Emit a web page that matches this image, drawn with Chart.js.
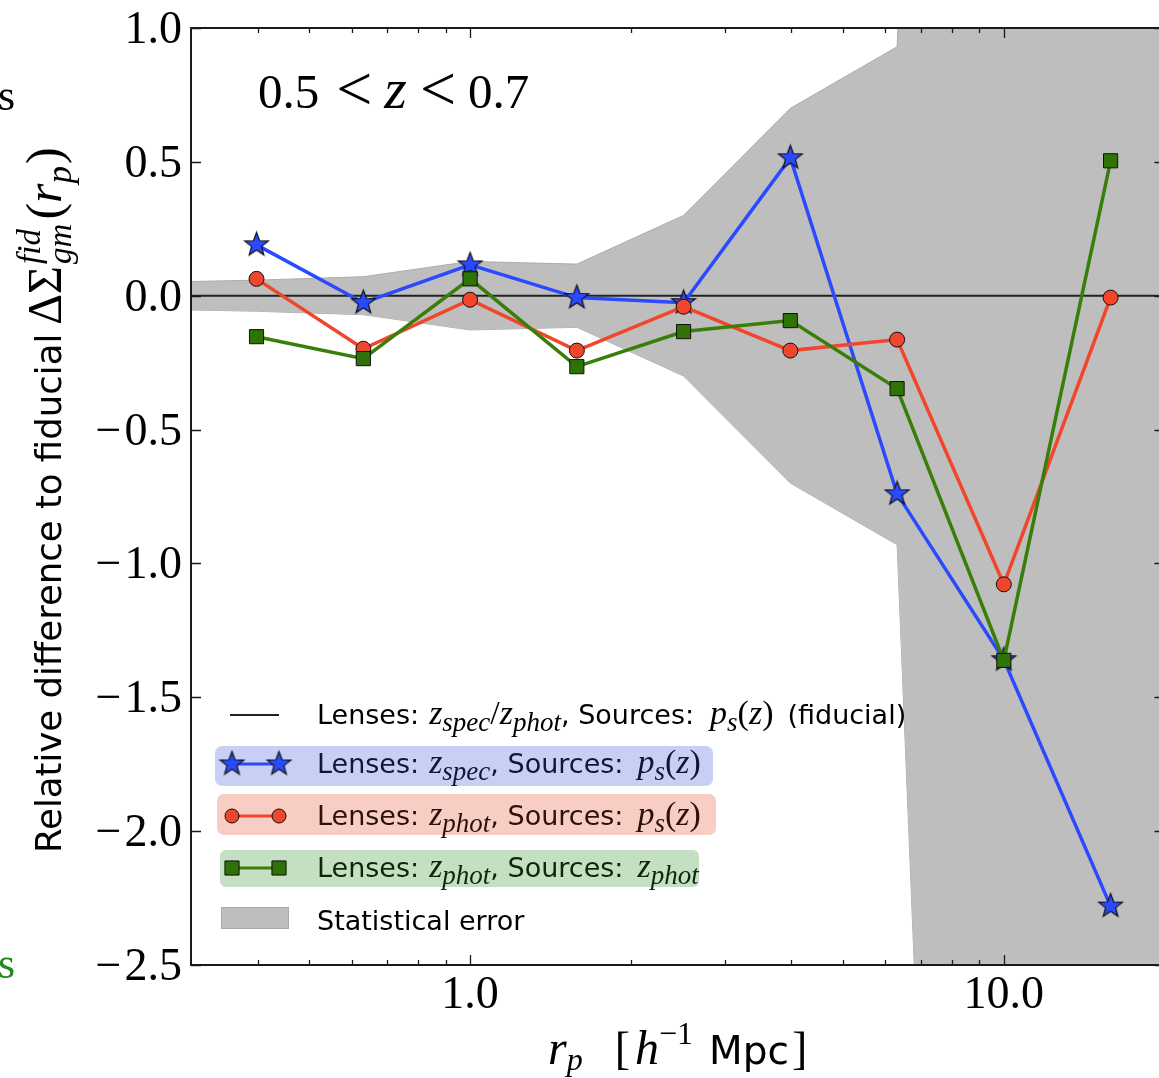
<!DOCTYPE html>
<html>
<head>
<meta charset="utf-8">
<script src="https://cdn.jsdelivr.net/npm/chart.js@4.4.1/dist/chart.umd.min.js"></script>
<style>
html, body { margin: 0; padding: 0; background: #fff; overflow: hidden; }
#wrap { position: relative; width: 1159px; height: 1078px; overflow: hidden; }
#myChart { position: absolute; left: 0; top: 0; }
</style>
</head>
<body>
<div id="wrap"><canvas id="myChart" width="1180" height="1078"></canvas></div>
<script>
// r_p bins [h^-1 Mpc]
const rp = [0.398, 0.631, 1.0, 1.585, 2.512, 3.981, 6.31, 10.0, 15.85];
// relative difference to fiducial
const specPs   = [0.19, -0.026, 0.115, -0.007, -0.026, 0.515, -0.74, -1.36, -2.28];
const photPs   = [0.063, -0.198, -0.015, -0.205, -0.041, -0.205, -0.164, -1.078, -0.007];
const photPhot = [-0.153, -0.235, 0.063, -0.265, -0.134, -0.093, -0.347, -1.362, 0.504];
// statistical error band (symmetric around 0)
const errX = [0.25, 0.398, 0.631, 1.0, 1.585, 2.512, 3.981, 6.31, 10.0, 15.85, 25.12];
const statErr = [0.05, 0.058, 0.071, 0.128, 0.118, 0.30, 0.70, 0.93, 10.7, 15.0, 20.0];
// fiducial line
const fidX = [0.3, 20];
const fidY = [0, 0];
// ticks
const xMajor = [1, 10];
const xMajorLabels = ['1.0', '10.0'];
const xMinor = [0.4, 0.5, 0.6, 0.7, 0.8, 0.9, 2, 3, 4, 5, 6, 7, 8, 9, 20];
const yTicks = [1.0, 0.5, 0.0, -0.5, -1.0, -1.5, -2.0, -2.5];
const yTickLabels = ['1.0', '0.5', '0.0', '\u22120.5', '\u22121.0', '\u22121.5', '\u22122.0', '\u22122.5'];

const SERIF = '"Liberation Serif", "DejaVu Serif", serif';
const SANS = '"DejaVu Sans", "Noto Sans", sans-serif';

const BLUE = '#2a4aff';
const RED = '#f0462c';
const GREEN = '#3a7e0a';
const GREEN_M = '#2f7306';

function starImage(r, fill) {
    const s = Math.ceil(r * 2 + 4);
    const c = document.createElement('canvas');
    c.width = s; c.height = s;
    const g = c.getContext('2d');
    g.translate(s / 2, s / 2);
    g.beginPath();
    for (let i = 0; i < 10; i++) {
        const a = -Math.PI / 2 + i * Math.PI / 5;
        const rr = i % 2 ? r * 0.42 : r;
        g.lineTo(rr * Math.cos(a), rr * Math.sin(a));
    }
    g.closePath();
    g.fillStyle = fill;
    g.fill();
    g.lineWidth = 1.2;
    g.strokeStyle = '#111';
    g.stroke();
    return c;
}
const star = starImage(12.5, BLUE);

const pts = (xs, ys) => xs.map((x, i) => ({x: x, y: ys[i]}));

// draws a run of text pieces: [text, kind('s' sans, 'r' serif, 'i' serif italic, 'g' gap), size, dy, advance?]
function rich(ctx, parts, x, y) {
    let cx = x;
    for (const p of parts) {
        const [t, k, size, dy = 0, adv = true] = p;
        if (k === 'g') { cx += size; continue; }
        ctx.font = (k === 'i' ? 'italic ' : '') + size + 'px ' + (k === 's' ? SANS : SERIF);
        ctx.fillText(t, cx, y + dy);
        if (adv) cx += ctx.measureText(t).width;
    }
    return cx;
}

const axesDecor = {
    id: 'axesDecor',
    afterDatasetsDraw(chart) {
        const {ctx, chartArea: a, scales: {x, y}} = chart;
        ctx.save();
        ctx.strokeStyle = '#1a1a1a';
        ctx.lineWidth = 1.3;
        ctx.beginPath();
        xMajor.forEach(v => {
            const px = Math.round(x.getPixelForValue(v)) + 0.5;
            ctx.moveTo(px, a.bottom); ctx.lineTo(px, a.bottom - 10);
            ctx.moveTo(px, a.top); ctx.lineTo(px, a.top + 10);
        });
        xMinor.forEach(v => {
            const px = Math.round(x.getPixelForValue(v)) + 0.5;
            ctx.moveTo(px, a.bottom); ctx.lineTo(px, a.bottom - 5);
            ctx.moveTo(px, a.top); ctx.lineTo(px, a.top + 5);
        });
        yTicks.forEach(v => {
            const py = Math.round(y.getPixelForValue(v)) + 0.5;
            ctx.moveTo(a.left, py); ctx.lineTo(a.left + 10, py);
            ctx.moveTo(a.right, py); ctx.lineTo(a.right - 10, py);
        });
        ctx.stroke();
        ctx.lineWidth = 2;
        ctx.strokeRect(a.left, a.top, a.right - a.left, a.bottom - a.top);

        // tick labels
        ctx.fillStyle = '#000';
        ctx.font = '46px ' + SERIF;
        ctx.textBaseline = 'alphabetic';
        yTicks.forEach((v, i) => {
            const py = y.getPixelForValue(v) + 15;
            const lab = yTickLabels[i];
            ctx.textAlign = 'right';
            if (lab[0] === '\u2212') {
                const num = lab.slice(1);
                ctx.fillText(num, a.left - 9, py);
                const w = ctx.measureText(num).width;
                ctx.fillText('\u2212', a.left - 9 - w - 3, py);
            } else {
                ctx.fillText(lab, a.left - 9, py);
            }
        });
        ctx.textAlign = 'center';
        xMajor.forEach((v, i) => {
            ctx.fillText(xMajorLabels[i], x.getPixelForValue(v), a.bottom + 43);
        });
        ctx.restore();
    },
    afterDraw(chart) {
        const {ctx} = chart;
        ctx.save();
        ctx.fillStyle = '#000';
        ctx.textAlign = 'left';
        ctx.textBaseline = 'alphabetic';

        // x axis title
        rich(ctx, [
            ['r', 'i', 48], ['p', 'i', 32, 6],
            ['', 'g', 32], ['[', 'r', 46], ['', 'g', 5], ['h', 'i', 48], ['\u22121', 'r', 32, -20],
            ['', 'g', 16], ['Mpc', 's', 39], ['', 'g', 3], [']', 'r', 46]
        ], 548, 1064);

        // y axis title (rotated)
        ctx.save();
        ctx.translate(61, 853);
        ctx.rotate(-Math.PI / 2);
        rich(ctx, [
            ['Relative difference to fiducial', 's', 35.5], ['', 'g', 9],
            ['\u0394\u03a3', 'r', 48], ['', 'g', 2],
            ['fid', 'i', 33, -21, false], ['gm', 'i', 33, 10], ['', 'g', 4],
            ['(', 'r', 50], ['r', 'i', 50], ['p', 'i', 35, 10], ['', 'g', 2], [')', 'r', 50]
        ], 0, 0);
        ctx.restore();

        // redshift bin annotation
        rich(ctx, [
            ['0.5', 'r', 49], ['', 'g', 17], ['<', 'r', 64, 2], ['', 'g', 12],
            ['z', 'i', 58], ['', 'g', 13], ['<', 'r', 64, 2], ['', 'g', 12], ['0.7', 'r', 49]
        ], 258, 108);

        // legend
        const L = 27, M = 34, S = 27, D = 7;
        const rows = [
            {y: 724, box: null, handle: 'line', parts: [
                ['Lenses:', 's', L], ['', 'g', 10], ['z', 'i', M], ['spec', 'i', S, D], ['/', 'r', M], ['z', 'i', M], ['phot', 'i', S, D],
                [', Sources:', 's', L], ['', 'g', 16], ['p', 'i', M], ['s', 'i', S, D], ['(', 'r', M], ['z', 'i', M], [')', 'r', M],
                ['', 'g', 14], ['(fiducial)', 's', L]]},
            {y: 773, box: [215, 746, 498, 40, '#c8cff4'], handle: 'star', color: BLUE, text: '#10153a', parts: [
                ['Lenses:', 's', L], ['', 'g', 10], ['z', 'i', M], ['spec', 'i', S, D],
                [', Sources:', 's', L], ['', 'g', 14], ['p', 'i', M], ['s', 'i', S, D], ['(', 'r', M], ['z', 'i', M], [')', 'r', M]]},
            {y: 825, box: [217, 794, 499, 41, '#f7cdc4'], handle: 'circle', color: RED, text: '#2c100b', parts: [
                ['Lenses:', 's', L], ['', 'g', 10], ['z', 'i', M], ['phot', 'i', S, D],
                [', Sources:', 's', L], ['', 'g', 14], ['p', 'i', M], ['s', 'i', S, D], ['(', 'r', M], ['z', 'i', M], [')', 'r', M]]},
            {y: 877, box: [219, 849, 481, 39, '#c5dfc3'], handle: 'rect', color: GREEN, text: '#0d250b', parts: [
                ['Lenses:', 's', L], ['', 'g', 10], ['z', 'i', M], ['phot', 'i', S, D],
                [', Sources:', 's', L], ['', 'g', 14], ['z', 'i', M], ['phot', 'i', S, D]]},
            {y: 930, box: null, handle: 'band', parts: [['Statistical error', 's', L]]}
        ];
        rows.forEach(r => {
            if (r.box) {
                const [bx, by, bw, bh, bc] = r.box;
                ctx.beginPath();
                ctx.roundRect(bx, by, bw, bh, 7);
                ctx.fillStyle = bc;
                ctx.fill();
                if (r.handle === 'rect') {
                    ctx.strokeStyle = '#ffffff';
                    ctx.lineWidth = 2;
                    ctx.stroke();
                }
            }
            const hy = r.y - 9;
            if (r.handle === 'line') {
                ctx.strokeStyle = '#222'; ctx.lineWidth = 2;
                ctx.beginPath(); ctx.moveTo(230, hy); ctx.lineTo(279, hy); ctx.stroke();
            } else if (r.handle === 'band') {
                ctx.fillStyle = '#bebebe';
                ctx.fillRect(221, 907, 68, 22);
                ctx.strokeStyle = '#aaaaaa'; ctx.lineWidth = 1;
                ctx.strokeRect(221.5, 907.5, 67, 21);
            } else {
                ctx.strokeStyle = r.color; ctx.lineWidth = 3;
                ctx.beginPath(); ctx.moveTo(232, hy); ctx.lineTo(279, hy); ctx.stroke();
                [232, 279].forEach(hx => {
                    if (r.handle === 'star') {
                        ctx.drawImage(star, hx - star.width / 2, hy - star.height / 2);
                    } else {
                        ctx.fillStyle = r.handle === 'rect' ? GREEN_M : RED;
                        ctx.strokeStyle = '#111'; ctx.lineWidth = 1;
                        Chart.helpers.drawPoint(ctx, {pointStyle: r.handle, radius: r.handle === 'rect' ? 10 : 7, rotation: 0, borderWidth: 1}, hx, hy);
                    }
                });
            }
            ctx.fillStyle = r.text || '#000';
            rich(ctx, r.parts, 317, r.y);
        });

        // fragments of the neighbouring panels
        ctx.fillStyle = '#000';
        ctx.font = '44px ' + SERIF;
        ctx.fillText('s', -2, 110);
        ctx.fillStyle = '#1f8a1f';
        ctx.fillText('s', -2, 978);
        ctx.restore();
    }
};

const ctx = document.getElementById('myChart').getContext('2d');
const myChart = new Chart(ctx, {
    type: 'line',
    data: {
        datasets: [
            {
                label: 'Statistical error',
                data: pts(errX, statErr),
                fill: 1,
                backgroundColor: '#bebebe',
                borderColor: '#acacac',
                borderWidth: 1,
                pointRadius: 0,
                order: 10
            },
            {
                label: 'lower',
                data: pts(errX, statErr.map(v => -v)),
                fill: false,
                borderColor: '#acacac',
                borderWidth: 1,
                pointRadius: 0,
                order: 10
            },
            {
                label: 'Lenses: zspec/zphot, Sources: ps(z) (fiducial)',
                data: pts(fidX, fidY),
                borderColor: '#222',
                borderWidth: 2,
                pointRadius: 0,
                order: 5
            },
            {
                label: 'Lenses: zspec, Sources: ps(z)',
                data: pts(rp, specPs),
                borderColor: BLUE,
                borderWidth: 3.5,
                pointStyle: star,
                pointRadius: 12,
                order: 3
            },
            {
                label: 'Lenses: zphot, Sources: ps(z)',
                data: pts(rp, photPs),
                borderColor: RED,
                borderWidth: 3.5,
                pointStyle: 'circle',
                pointRadius: 7.5,
                pointBackgroundColor: RED,
                pointBorderColor: '#111',
                pointBorderWidth: 1,
                order: 2
            },
            {
                label: 'Lenses: zphot, Sources: zphot',
                data: pts(rp, photPhot),
                borderColor: GREEN,
                borderWidth: 3.5,
                pointStyle: 'rect',
                pointRadius: 10,
                pointBackgroundColor: GREEN_M,
                pointBorderColor: '#111',
                pointBorderWidth: 1,
                order: 1
            }
        ]
    },
    options: {
        responsive: false,
        animation: false,
        devicePixelRatio: 1,
        layout: {padding: {left: 191, top: 28, right: 14, bottom: 113}},
        elements: {line: {tension: 0}},
        plugins: {legend: {display: false}, tooltip: {enabled: false}},
        scales: {
            x: {type: 'logarithmic', min: 0.3, max: 20, display: false},
            y: {type: 'linear', min: -2.5, max: 1.0, display: false}
        }
    },
    plugins: [axesDecor]
});
</script>
</body>
</html>
